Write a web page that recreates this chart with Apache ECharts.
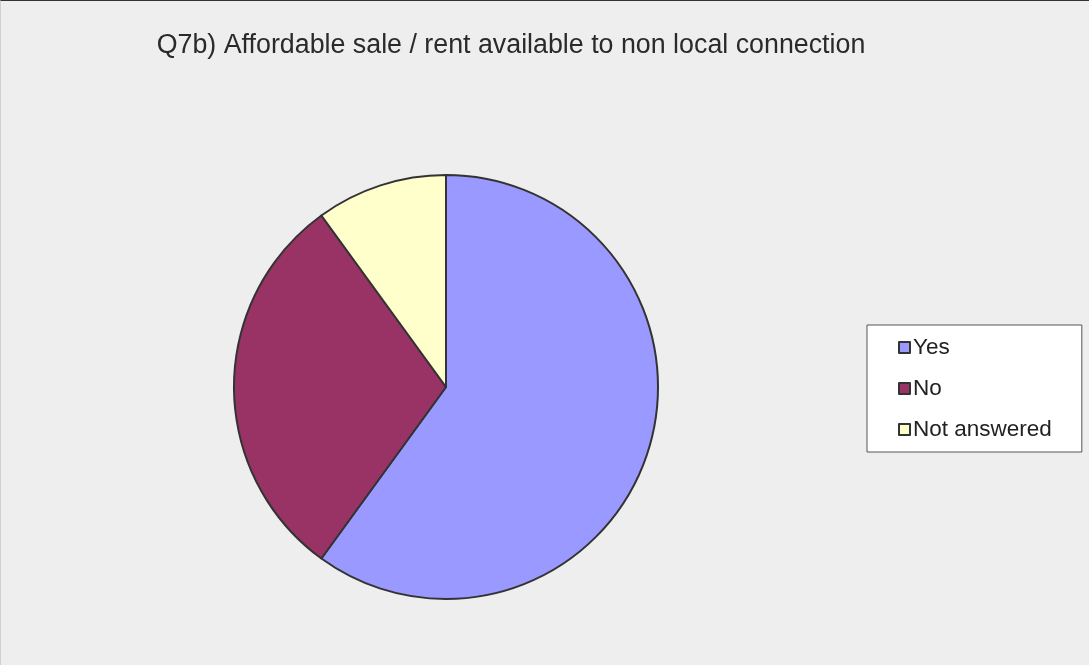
<!DOCTYPE html>
<html>
<head>
<meta charset="utf-8">
<script src="https://cdn.jsdelivr.net/npm/echarts@6/dist/echarts.min.js"></script>
<style>
  html, body { margin: 0; padding: 0; background: #eeeeee; }
  #chart { width: 1088px; height: 664px; border-top: 1px solid #333; border-left: 1px solid #d0d0d0; }
</style>
</head>
<body>
<div id="chart"></div>
<script>
const titleText = 'Q7b) Affordable sale / rent available to non local connection';
const categories = ['Yes', 'No', 'Not answered'];
const values = [60, 30, 10];
const colors = ['#9999ff', '#993366', '#ffffcc'];

const myChart = echarts.init(document.getElementById('chart'));

const data = categories.map((name, i) => ({
    name: name,
    value: values[i],
    itemStyle: { color: colors[i] }
}));

const option = {
    backgroundColor: '#eeeeee',
    animation: false,
    title: {
        text: titleText,
        left: 505,
        top: 26,
        textAlign: 'center',
        textStyle: {
            fontFamily: 'Liberation Sans',
            fontSize: 26.8,
            fontWeight: 'normal',
            color: '#2a2a2a'
        }
    },
    legend: {
        orient: 'vertical',
        left: 866,
        top: 324,
        padding: [11, 30, 11, 31],
        itemGap: 18,
        itemWidth: 11,
        itemHeight: 11,
        icon: 'rect',
        backgroundColor: '#ffffff',
        borderColor: '#555',
        borderWidth: 1,
        borderRadius: 0,
        itemStyle: { borderColor: '#333', borderWidth: 2 },
        textStyle: {
            fontFamily: 'Liberation Sans',
            fontSize: 22.5,
            lineHeight: 22,
            color: '#222',
            padding: [0, 0, 0, -2]
        },
        data: categories
    },
    series: [{
        type: 'pie',
        center: [445, 386],
        radius: [0, 212],
        startAngle: 90,
        clockwise: true,
        label: { show: false },
        labelLine: { show: false },
        emphasis: { disabled: true },
        itemStyle: { borderColor: '#333', borderWidth: 2 },
        data: data
    }]
};

myChart.setOption(option);
</script>
</body>
</html>
